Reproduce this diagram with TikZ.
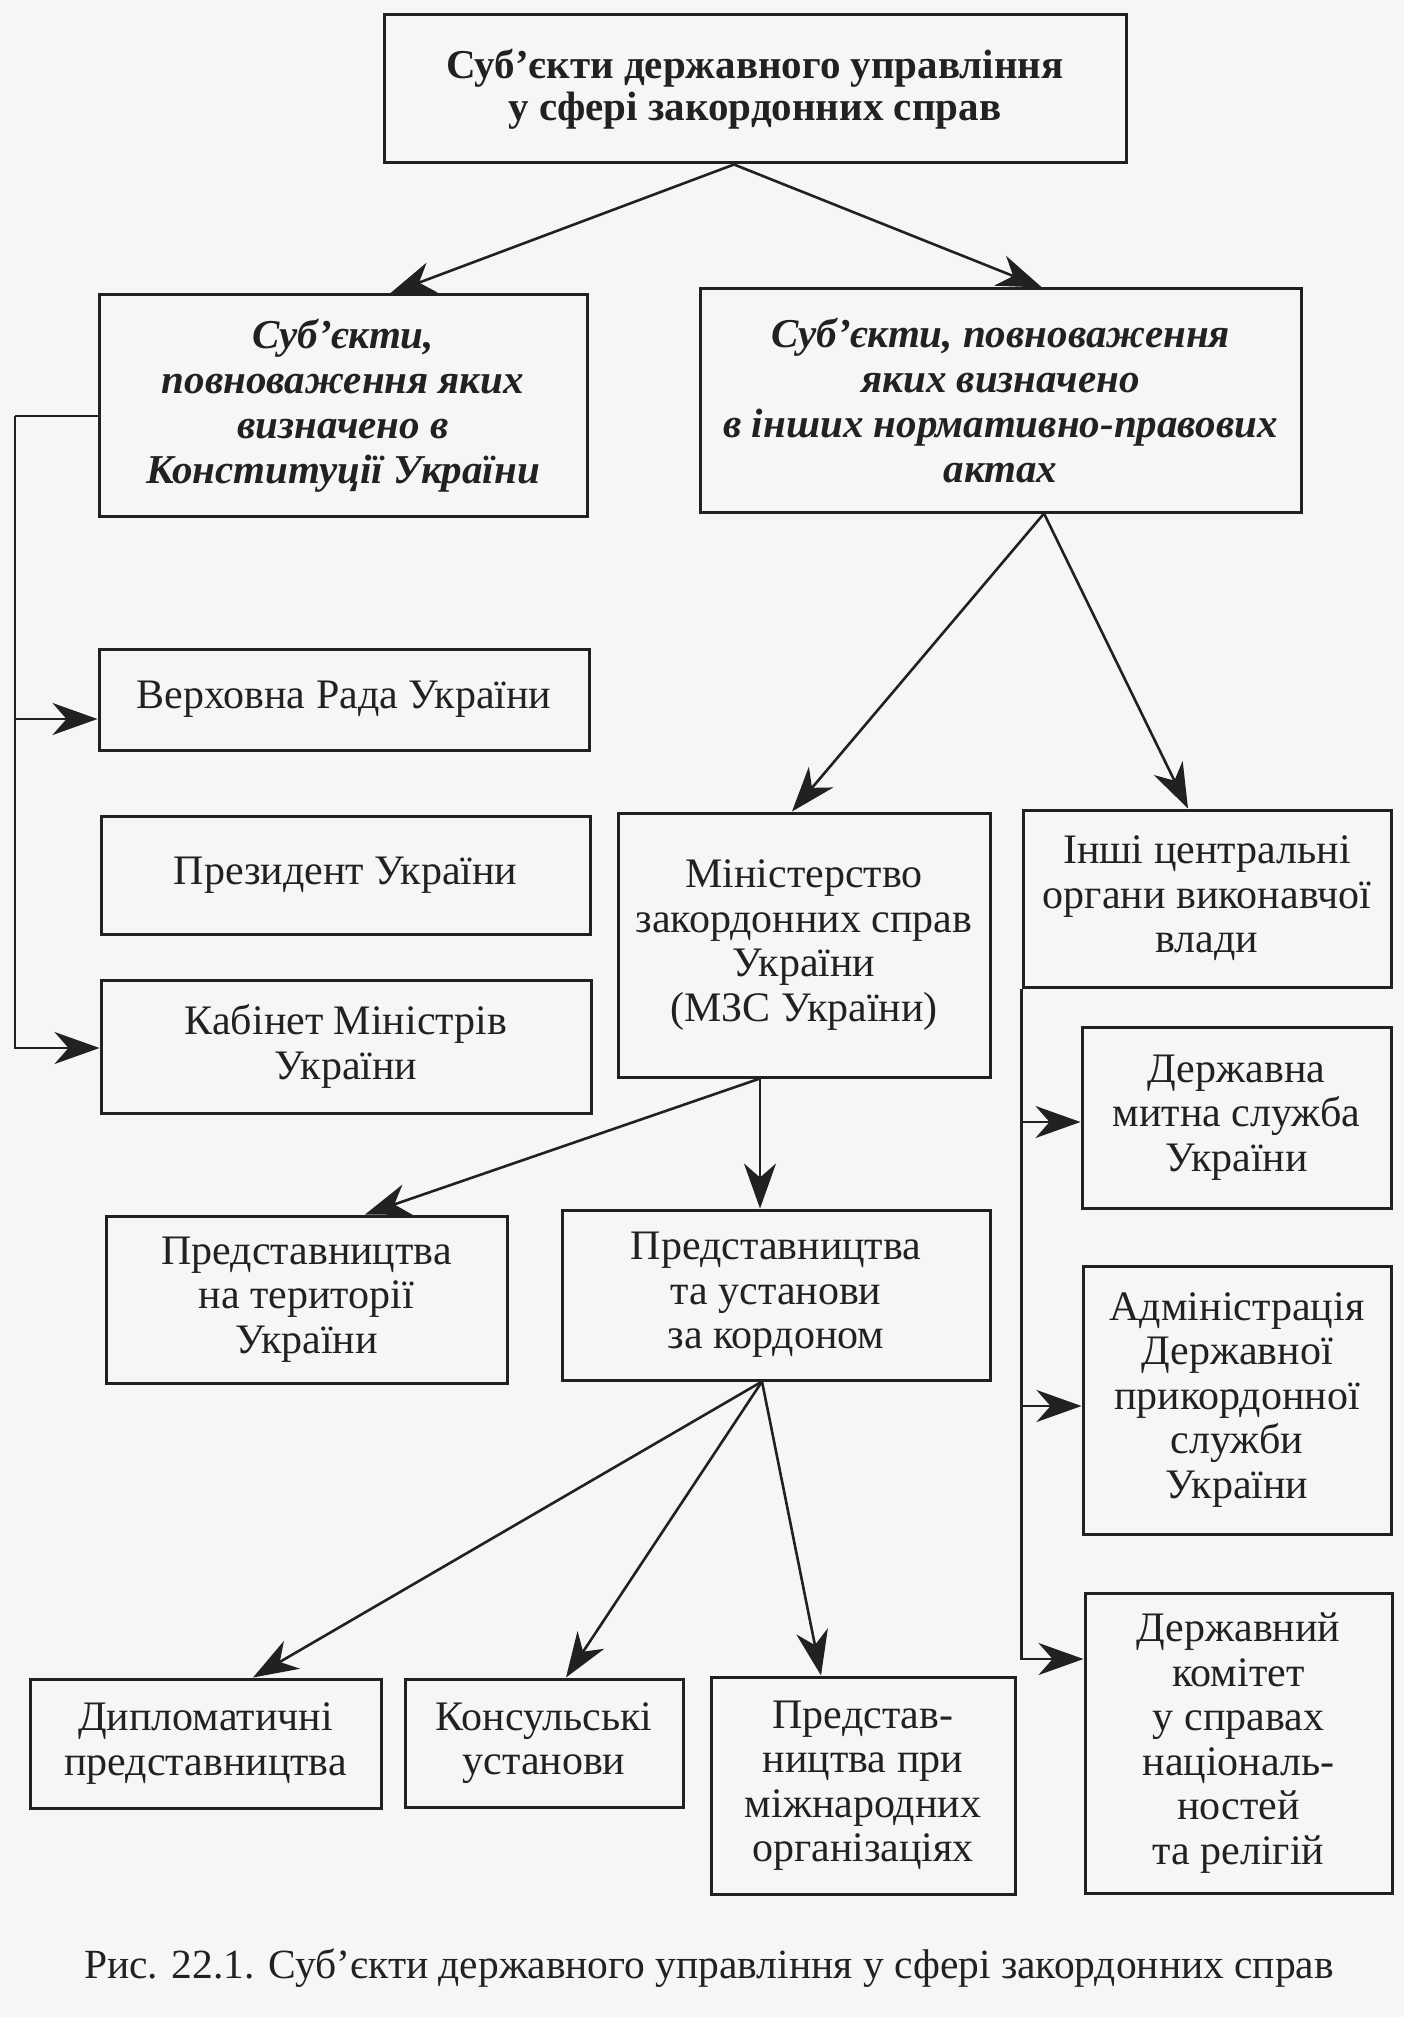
\documentclass[tikz,border=0pt]{standalone}
\usepackage{fontspec}
\setmainfont{Liberation Serif}
\usetikzlibrary{arrows.meta}
\definecolor{ink}{HTML}{232021}
\definecolor{paper}{HTML}{F6F6F6}

\begin{document}
\begin{tikzpicture}[x=1pt,y=-1pt,
  box/.style={draw=ink, line width=3pt, inner sep=0pt, align=center, text=ink,
    font=\fontsize{42}{44.5}\selectfont},
  headbox/.style={box, font=\bfseries\fontsize{41}{42}\selectfont},
  kindbox/.style={box, font=\bfseries\itshape\fontsize{41}{45}\selectfont},
  arr/.style={draw=ink, line width=2.6pt, -{Stealth[length=45pt,width=32pt,inset=14pt]}},
  link/.style={draw=ink, line width=2.6pt}]
\fill[paper] (0,0) rectangle (1404,2017);
\useasboundingbox (0,0) rectangle (1404,2017);

\node[headbox, minimum width=742pt, minimum height=148pt] (top) at (755,89)
  {Суб’єкти державного управління\\у сфері закордонних справ};
\node[kindbox, minimum width=488pt, minimum height=221pt] (konst) at (343,405.5)
  {Суб’єкти,\\повноваження яких\\визначено в\\Конституції України};
\node[kindbox, minimum width=601pt, minimum height=223pt] (akty) at (1000.5,400.5)
  {Суб’єкти, повноваження\\яких визначено\\в інших нормативно-правових\\актах};

% left column
\node[box, minimum width=490pt, minimum height=101pt] (vr) at (344,699.5) {Верховна Рада України};
\node[box, minimum width=489pt, minimum height=118pt] (prez) at (345.5,875) {Президент України};
\node[box, minimum width=490pt, minimum height=133pt] (kmu) at (346,1046.5) {Кабінет Міністрів\\України};

% middle
\node[box, minimum width=372pt, minimum height=264pt] (mzs) at (804,945)
  {Міністерство\\закордонних справ\\України\\(МЗС України)};
\node[box, minimum width=401pt, minimum height=167pt] (vnutr) at (306.5,1299.5)
  {Представництва\\на території\\України};
\node[box, minimum width=428pt, minimum height=170pt] (zakord) at (776,1295)
  {Представництва\\та установи\\за кордоном};
\node[box, minimum width=351pt, minimum height=129pt] (dypl) at (205.5,1743.5)
  {Дипломатичні\\представництва};
\node[box, minimum width=278pt, minimum height=128pt] (kons) at (544,1743)
  {Консульські\\установи};
\node[box, minimum width=304pt, minimum height=217pt] (mizhn) at (863,1785.5)
  {Представ-\\ництва при\\міжнародних\\організаціях};

% right column
\node[box, minimum width=368pt, minimum height=177pt] (inshi) at (1207,898.5)
  {Інші центральні\\органи виконавчої\\влади};
\node[box, minimum width=309pt, minimum height=181pt] (mytna) at (1236.5,1117.5)
  {Державна\\митна служба\\України};
\node[box, minimum width=308pt, minimum height=268pt] (kordon) at (1237,1400)
  {Адміністрація\\Державної\\прикордонної\\служби\\України};
\node[box, minimum width=307pt, minimum height=300pt] (komitet) at (1238.5,1743)
  {Державний\\комітет\\у справах\\національ-\\ностей\\та релігій};

\node[text=ink, font=\fontsize{41.5}{42}\selectfont] (caption) at (709,1968)
  {Рис. 22.1. Суб’єкти державного управління у сфері закордонних справ};

% arrows
\draw[arr] ([xshift=-21pt]top.south) -- ([xshift=47pt]konst.north);
\draw[arr] ([xshift=-21pt]top.south) -- ([xshift=41.5pt]akty.north);
\draw[arr] ([xshift=43.5pt]akty.south) -- ([xshift=-12pt]mzs.north);
\draw[arr] ([xshift=43.5pt]akty.south) -- ([xshift=-19pt]inshi.north);
\draw[arr] ([xshift=-44pt]mzs.south) -- ([xshift=58.5pt]vnutr.north);
\draw[arr] ([xshift=-44pt]mzs.south) -- ([xshift=-16pt]zakord.north);
\draw[arr] ([xshift=-14pt]zakord.south) -- ([xshift=47.5pt]dypl.north);
\draw[arr] ([xshift=-14pt]zakord.south) -- ([xshift=22pt]kons.north);
\draw[arr] ([xshift=-14pt]zakord.south) -- ([xshift=-42pt]mizhn.north);

% left bracket
\coordinate (bend) at (15,416);
\coordinate (vrin) at ([yshift=-19.5pt]vr.west);
\coordinate (kmuin) at ([yshift=-1.5pt]kmu.west);
\draw[link] ([yshift=-10.5pt]konst.west) -- (bend);
\draw[arr] (bend) |- (kmuin);
\draw[arr] (bend |- vrin) -- (vrin);

% right trunk
\coordinate (mytnain) at ([yshift=-4.5pt]mytna.west);
\coordinate (kordonin) at ([yshift=-6pt]kordon.west);
\coordinate (komitetin) at ([yshift=84pt]komitet.west);
\draw[arr] (inshi.south west) |- (komitetin);
\draw[arr] (inshi.south west |- mytnain) -- (mytnain);
\draw[arr] (inshi.south west |- kordonin) -- (kordonin);
\end{tikzpicture}
\end{document}
